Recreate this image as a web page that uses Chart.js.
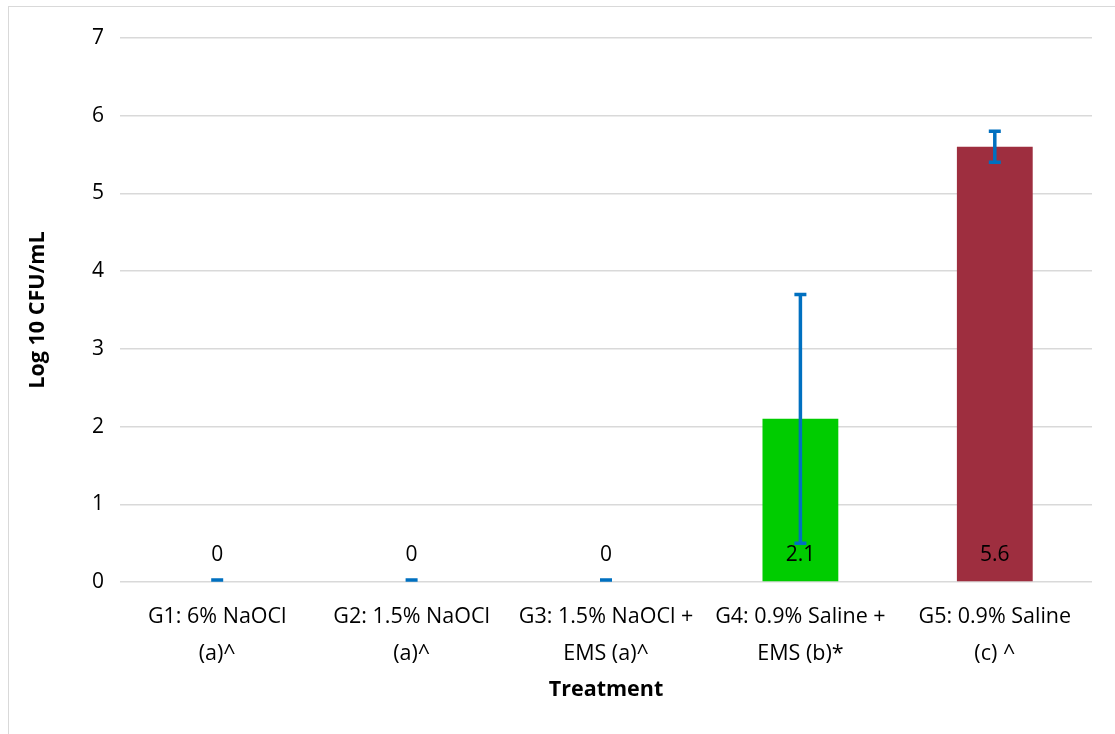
<!DOCTYPE html>
<html><head><meta charset="utf-8">
<script src="https://cdn.jsdelivr.net/npm/chart.js@4"></script>
<style>
html,body{margin:0;padding:0;background:#fff;overflow:hidden;}
#frame{position:absolute;left:8px;top:6px;width:1300px;height:900px;border:1px solid #d9d9d9;}
#wrap{position:absolute;left:0;top:0;width:1115px;height:734px;}
</style></head>
<body>
<div id="frame"></div>
<div id="wrap"><canvas id="c" width="1115" height="734"></canvas></div>
<script>
const categories = [
  ['G1: 6% NaOCl','(a)^'],
  ['G2: 1.5% NaOCl','(a)^'],
  ['G3: 1.5% NaOCl +','EMS (a)^'],
  ['G4: 0.9% Saline +','EMS (b)*'],
  ['G5: 0.9% Saline','(c) ^']
];
const values = [0, 0, 0, 2.1, 5.6];
const errors = [0, 0, 0, 1.6, 0.2];
const barColors = ['#4472C4','#4472C4','#4472C4','#00CC00','#9E2E3F'];
const yTicks = [0,1,2,3,4,5,6,7];

const FONT = "'Open Sans', Lato, 'Liberation Sans', sans-serif";

const errorBarPlugin = {
  id: 'errbars',
  afterDatasetsDraw(chart) {
    const ctx = chart.ctx, x = chart.scales.x, y = chart.scales.y;
    ctx.save();
    ctx.strokeStyle = '#0070C0';
    ctx.lineWidth = 3.5;
    values.forEach((v, i) => {
      const cx = x.getPixelForValue(i);
      const top = y.getPixelForValue(v + errors[i]);
      const bot = y.getPixelForValue(v - errors[i]) - (errors[i] === 0 ? 2 : 0);
      const topY = errors[i] === 0 ? bot : top;
      ctx.beginPath();
      ctx.moveTo(cx, topY); ctx.lineTo(cx, bot);
      ctx.moveTo(cx - 6, topY); ctx.lineTo(cx + 6, topY);
      ctx.moveTo(cx - 6, bot); ctx.lineTo(cx + 6, bot);
      ctx.stroke();
    });
    ctx.restore();
  }
};

const labelPlugin = {
  id: 'vlabels',
  afterDatasetsDraw(chart) {
    const ctx = chart.ctx, x = chart.scales.x, y = chart.scales.y;
    ctx.save();
    ctx.fillStyle = '#000';
    ctx.font = '21px ' + FONT;
    ctx.textAlign = 'center';
    ctx.textBaseline = 'middle';
    values.forEach((v, i) => {
      ctx.fillText(String(v), x.getPixelForValue(i), y.getPixelForValue(0) - 27);
    });
    ctx.restore();
  }
};

new Chart(document.getElementById('c'), {
  type: 'bar',
  data: {
    labels: categories,
    datasets: [{
      data: values,
      backgroundColor: barColors,
      barPercentage: 0.39,
      categoryPercentage: 1
    }]
  },
  options: {
    responsive: false,
    animation: false,
    layout: { padding: { left: 0, right: 23, top: 38, bottom: 0 } },
    plugins: { legend: { display: false }, tooltip: { enabled: false } },
    scales: {
      x: {
        grid: { display: false, drawTicks: false },
        border: { display: false },
        ticks: { color: '#000', font: { family: FONT, size: 21.5, lineHeight: 1.72 }, padding: 16, maxRotation: 0, autoSkip: false },
        title: { display: true, text: 'Treatment', color: '#000', font: { family: FONT, size: 21.5, weight: 'bold' }, padding: { top: 4, bottom: 31 } },
        afterFit(s) { s.height = 152; }
      },
      y: {
        min: 0, max: 7,
        afterBuildTicks(s) { s.ticks = yTicks.map(v => ({ value: v })); },
        grid: { color: '#d9d9d9', lineWidth: 1.5, drawTicks: false },
        border: { display: false },
        ticks: { color: '#000', font: { family: FONT, size: 21 }, padding: 16 },
        title: { display: true, text: 'Log 10 CFU/mL', color: '#000', font: { family: FONT, size: 21.5, weight: 'bold' }, padding: { top: 25, bottom: 0 } },
        afterFit(s) { s.width = 120; }
      }
    }
  },
  plugins: [errorBarPlugin, labelPlugin]
});
</script>
</body></html>
